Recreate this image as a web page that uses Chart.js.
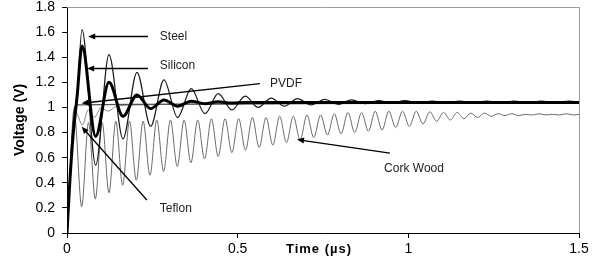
<!DOCTYPE html>
<html>
<head>
  <meta charset="UTF-8">
  <title>Voltage vs time</title>
  <script src="https://cdn.jsdelivr.net/npm/chart.js"></script>
  <style>
    body { margin: 0; background: #fff; }
    canvas { display: block; }
  </style>
</head>
<body>
<canvas id="myChart" width="601" height="271"></canvas>
<script>
  // Valeurs (temps en µs, tension en V)
  const steelTime = [0, 0.008, 0.018, 0.03, 0.044, 0.084, 0.123, 0.164, 0.205, 0.245, 0.284, 0.324, 0.364, 0.404, 0.443, 0.483, 0.522, 0.56, 0.598, 0.637, 0.675, 0.715, 0.755, 0.795, 0.834, 0.873, 0.912, 0.951, 0.99, 1.03, 1.07, 1.11, 1.15, 1.19, 1.23, 1.27, 1.31, 1.35, 1.39, 1.43, 1.47, 1.5];
  const steelVolt = [0, 0.4, 0.8, 1.1, 1.62, 0.54, 1.42, 0.75, 1.28, 0.85, 1.22, 0.92, 1.15, 0.95, 1.11, 0.98, 1.09, 1.0, 1.075, 1.01, 1.07, 1.02, 1.065, 1.025, 1.06, 1.03, 1.055, 1.035, 1.055, 1.035, 1.05, 1.04, 1.05, 1.04, 1.05, 1.04, 1.05, 1.04, 1.05, 1.04, 1.05, 1.045];

  const siliconTime = [0, 0.007, 0.017, 0.03, 0.044, 0.084, 0.123, 0.164, 0.205, 0.245, 0.284, 0.324, 0.364, 0.404, 0.443, 0.483, 0.522, 1.5];
  const siliconVolt = [0, 0.35, 0.75, 1.1, 1.49, 0.77, 1.2, 0.93, 1.1, 0.99, 1.06, 1.01, 1.05, 1.03, 1.045, 1.035, 1.04, 1.04];

  const pvdfTime = [0, 0.01, 0.02, 0.03, 0.2, 0.6, 1.0, 1.5];
  const pvdfVolt = [0, 0.55, 0.98, 1.02, 1.025, 1.03, 1.035, 1.04];

  const teflonTime = [0, 0.012, 0.026, 0.045, 0.062, 0.08, 0.1, 0.12, 0.145, 0.2, 0.4, 0.8, 1.5];
  const teflonVolt = [0, 0.6, 0.96, 0.86, 0.98, 0.92, 1.0, 0.97, 1.01, 1.02, 1.025, 1.03, 1.035];

  const corkTime = [0, 0.01, 0.022,
    0.043, 0.063, 0.083, 0.103, 0.123, 0.143, 0.163, 0.183, 0.203, 0.223,
    0.243, 0.263, 0.283, 0.303, 0.323, 0.343, 0.363, 0.383, 0.403, 0.423,
    0.443, 0.463, 0.483, 0.503, 0.523, 0.543, 0.563, 0.583, 0.603, 0.623,
    0.643, 0.663, 0.683, 0.703, 0.723, 0.743, 0.763, 0.783, 0.803, 0.823,
    0.843, 0.863, 0.883, 0.903, 0.923, 0.943, 0.963, 0.983, 1.003, 1.023,
    1.043, 1.063, 1.083, 1.103, 1.123, 1.143, 1.163, 1.183, 1.203, 1.223,
    1.243, 1.263, 1.283, 1.303, 1.323, 1.343, 1.363, 1.383, 1.403, 1.423,
    1.443, 1.463, 1.483, 1.5];
  const corkVolt = [0, 0.5, 0.93,
    0.21, 0.88, 0.27, 0.88, 0.32, 0.89, 0.38, 0.89, 0.42, 0.89,
    0.46, 0.90, 0.49, 0.90, 0.53, 0.90, 0.56, 0.90, 0.59, 0.91,
    0.61, 0.91, 0.64, 0.91, 0.66, 0.92, 0.68, 0.92, 0.70, 0.93,
    0.72, 0.93, 0.74, 0.94, 0.76, 0.94, 0.78, 0.95, 0.79, 0.96,
    0.80, 0.96, 0.81, 0.97, 0.82, 0.97, 0.84, 0.97, 0.85, 0.97,
    0.87, 0.965, 0.89, 0.96, 0.90, 0.96, 0.91, 0.955, 0.92, 0.955,
    0.93, 0.95, 0.935, 0.95, 0.935, 0.945, 0.94, 0.95, 0.94, 0.945,
    0.94, 0.95, 0.94, 0.945];

  const xTicks = [0, 0.5, 1, 1.5];
  const yTicks = [0, 0.2, 0.4, 0.6, 0.8, 1, 1.2, 1.4, 1.6, 1.8];

  // Étiquettes et flèches (coordonnées en unités des axes)
  const labels = [
    { text: 'Steel',     at: [0.272, 1.565], from: [0.237, 1.565], to: [0.062, 1.565] },
    { text: 'Silicon',   at: [0.272, 1.33],  from: [0.237, 1.31],  to: [0.059, 1.31] },
    { text: 'PVDF',      at: [0.595, 1.19],  from: [0.565, 1.19],  to: [0.043, 1.033] },
    { text: 'Teflon',    at: [0.272, 0.19],  from: [0.234, 0.263], to: [0.043, 0.846] },
    { text: 'Cork Wood', at: [0.929, 0.51],  from: [0.946, 0.637], to: [0.674, 0.744] }
  ];

  const FONT = '"Liberation Sans", Arial, sans-serif';

  function toPoints(ts, vs) {
    return ts.map((t, i) => ({ x: t, y: vs[i] }));
  }

  // Bordures haut/droite grises + annotations
  const decor = {
    id: 'decor',
    beforeDatasetsDraw(chart) {
      const { ctx, chartArea: a } = chart;
      ctx.save();
      ctx.strokeStyle = '#9a9a9a';
      ctx.lineWidth = 1;
      ctx.beginPath();
      ctx.moveTo(a.left, a.top + 0.5);
      ctx.lineTo(a.right + 0.5, a.top + 0.5);
      ctx.lineTo(a.right + 0.5, a.bottom);
      ctx.stroke();
      ctx.restore();
    },
    afterDatasetsDraw(chart) {
      const { ctx, scales: { x, y } } = chart;
      ctx.save();
      labels.forEach(l => {
        const x1 = x.getPixelForValue(l.from[0]), y1 = y.getPixelForValue(l.from[1]);
        const x2 = x.getPixelForValue(l.to[0]), y2 = y.getPixelForValue(l.to[1]);
        const ang = Math.atan2(y2 - y1, x2 - x1);
        ctx.strokeStyle = '#000';
        ctx.fillStyle = '#000';
        ctx.lineWidth = 1.3;
        ctx.beginPath();
        ctx.moveTo(x1, y1);
        ctx.lineTo(x2 - 5 * Math.cos(ang), y2 - 5 * Math.sin(ang));
        ctx.stroke();
        ctx.beginPath();
        ctx.moveTo(x2, y2);
        ctx.lineTo(x2 - 7 * Math.cos(ang) + 3 * Math.sin(ang), y2 - 7 * Math.sin(ang) - 3 * Math.cos(ang));
        ctx.lineTo(x2 - 7 * Math.cos(ang) - 3 * Math.sin(ang), y2 - 7 * Math.sin(ang) + 3 * Math.cos(ang));
        ctx.closePath();
        ctx.fill();

        ctx.font = '12px ' + FONT;
        ctx.textAlign = 'left';
        ctx.textBaseline = 'middle';
        ctx.fillStyle = '#222';
        ctx.fillText(l.text, x.getPixelForValue(l.at[0]), y.getPixelForValue(l.at[1]));
      });

      // titre de l'axe X, sur la ligne des graduations
      ctx.font = 'bold 13px ' + FONT;
      ctx.letterSpacing = '1px';
      ctx.textAlign = 'center';
      ctx.textBaseline = 'middle';
      ctx.fillStyle = '#000';
      ctx.fillText('Time (µs)', (chart.chartArea.left + chart.chartArea.right) / 2 - 4, x.bottom - 22);
      ctx.restore();
    }
  };

  const common = { pointRadius: 0, fill: false, cubicInterpolationMode: 'monotone' };

  new Chart(document.getElementById('myChart'), {
    type: 'line',
    data: {
      datasets: [
        { ...common, label: 'Silicon', data: toPoints(siliconTime, siliconVolt), borderColor: '#000', borderWidth: 3 },
        { ...common, label: 'Steel', data: toPoints(steelTime, steelVolt), borderColor: '#1a1a1a', borderWidth: 1.2 },
        { ...common, label: 'PVDF', data: toPoints(pvdfTime, pvdfVolt), borderColor: '#555', borderWidth: 1.2 },
        { ...common, label: 'Teflon', data: toPoints(teflonTime, teflonVolt), borderColor: '#888', borderWidth: 1 },
        { ...common, label: 'Cork Wood', data: toPoints(corkTime, corkVolt), borderColor: '#6a6a6a', borderWidth: 1 }
      ]
    },
    options: {
      responsive: false,
      animation: false,
      layout: { padding: { top: 7, right: 22, left: 0, bottom: 0 } },
      plugins: { legend: { display: false }, tooltip: { enabled: false } },
      scales: {
        x: {
          type: 'linear',
          min: 0, max: 1.5,
          afterBuildTicks: s => { s.ticks = xTicks.map(v => ({ value: v })); },
          afterFit: s => { s.height = 38; },
          grid: { drawOnChartArea: false, drawTicks: true, tickLength: 5, color: '#000' },
          border: { display: true, color: '#000', width: 1 },
          ticks: { color: '#000', padding: 3, maxRotation: 0, callback: v => String(v), font: { family: FONT, size: 14 } }
        },
        y: {
          min: 0, max: 1.8,
          afterBuildTicks: s => { s.ticks = yTicks.map(v => ({ value: v })); },
          afterFit: s => { s.width = 67; s.paddingTop = 0; s.paddingBottom = 0; },
          grid: { drawOnChartArea: false, drawTicks: true, tickLength: 5, color: '#000' },
          border: { display: true, color: '#000', width: 1 },
          ticks: { color: '#000', padding: 7, callback: v => String(v), font: { family: FONT, size: 14 } },
          title: { display: true, text: 'Voltage (V)', color: '#000', padding: { top: 12, bottom: 0 }, font: { family: FONT, size: 14, weight: 'bold' } }
        }
      }
    },
    plugins: [decor]
  });
</script>
</body>
</html>
